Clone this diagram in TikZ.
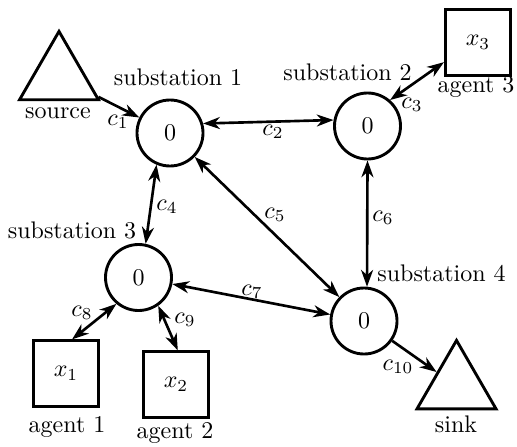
\documentclass[tikz,border=0pt]{standalone}
\usetikzlibrary{shapes.geometric,arrows.meta}
\begin{document}
\begin{tikzpicture}[x=0.41667pt, y=-0.41667pt,
  station/.style={circle, draw, line width=1.2pt, minimum size=27.5pt, inner sep=0pt},
  agentbox/.style={rectangle, draw, line width=1.2pt, minimum size=27.2pt, inner sep=0pt},
  terminal/.style={regular polygon, regular polygon sides=3, draw, line width=1.2pt,
                   minimum size=38pt, inner sep=0pt},
  tip/.tip={Stealth[length=7pt, width=5pt, inset=2.2pt]},
  oneway/.style={line width=1.1pt, -tip},
  twoway/.style={line width=1.1pt, tip-tip},
  lbl/.style={inner sep=0pt}
]
\useasboundingbox (0,0) rectangle (517,446);

% substations
\node[station] (s1) at (170,133)   {$0$};
\node[station] (s2) at (367.5,126) {$0$};
\node[station] (s3) at (138.5,277.5) {$0$};
\node[station] (s4) at (364,321)   {$0$};

% agents
\node[agentbox] (a1) at (66,373.5)  {$x_1$};
\node[agentbox] (a2) at (176,384.5) {$x_2$};
\node[agentbox] (a3) at (478,42.5)  {$x_3$};

% source and sink
\node[terminal] (src)  at (59,77)    {};
\node[terminal] (sink) at (456.5,386) {};

% names
\node[lbl] (nsrc)  at (58,113)  {source};
\node[lbl] (nsink) at (456,424) {sink};
\node[lbl] (ns1) at (178,77)    {substation 1};
\node[lbl] (ns2) at (347.5,72)  {substation 2};
\node[lbl] (ns3) at (72,230)    {substation 3};
\node[lbl] (ns4) at (441.5,273) {substation 4};
\node[lbl] (na1) at (67,427)    {agent 1};
\node[lbl] (na2) at (175,433)   {agent 2};
\node[lbl] (na3) at (476,87)    {agent 3};

% lines
\draw[oneway] (src) -- (s1);
\draw[twoway] (s1.16) -- (s2.170);
\draw[twoway] (s2.49) -- (a3.210);
\draw[twoway] (s1.-113) -- (s3.78);
\draw[twoway] (s1) -- (s4);
\draw[twoway] (s2.south) -- (s4.85);
\draw[twoway] (s3) -- (s4);
\draw[twoway] (s3.-130) -- (a1.80);
\draw[twoway] (s3.-55) -- (a2.87);
\draw[oneway] (s4) -- (sink);

% line costs
\node[lbl] (c1)  at (118,122) {$c_1$};
\node[lbl] (c2)  at (273,132) {$c_2$};
\node[lbl] (c3)  at (412,105) {$c_3$};
\node[lbl] (c4)  at (167,207) {$c_4$};
\node[lbl] (c5)  at (275,215) {$c_5$};
\node[lbl] (c6)  at (383,218) {$c_6$};
\node[lbl] (c7)  at (252,292) {$c_7$};
\node[lbl] (c8)  at (82,313)  {$c_8$};
\node[lbl] (c9)  at (185,320) {$c_9$};
\node[lbl] (c10) at (398,367) {$c_{10}$};
\end{tikzpicture}
\end{document}
